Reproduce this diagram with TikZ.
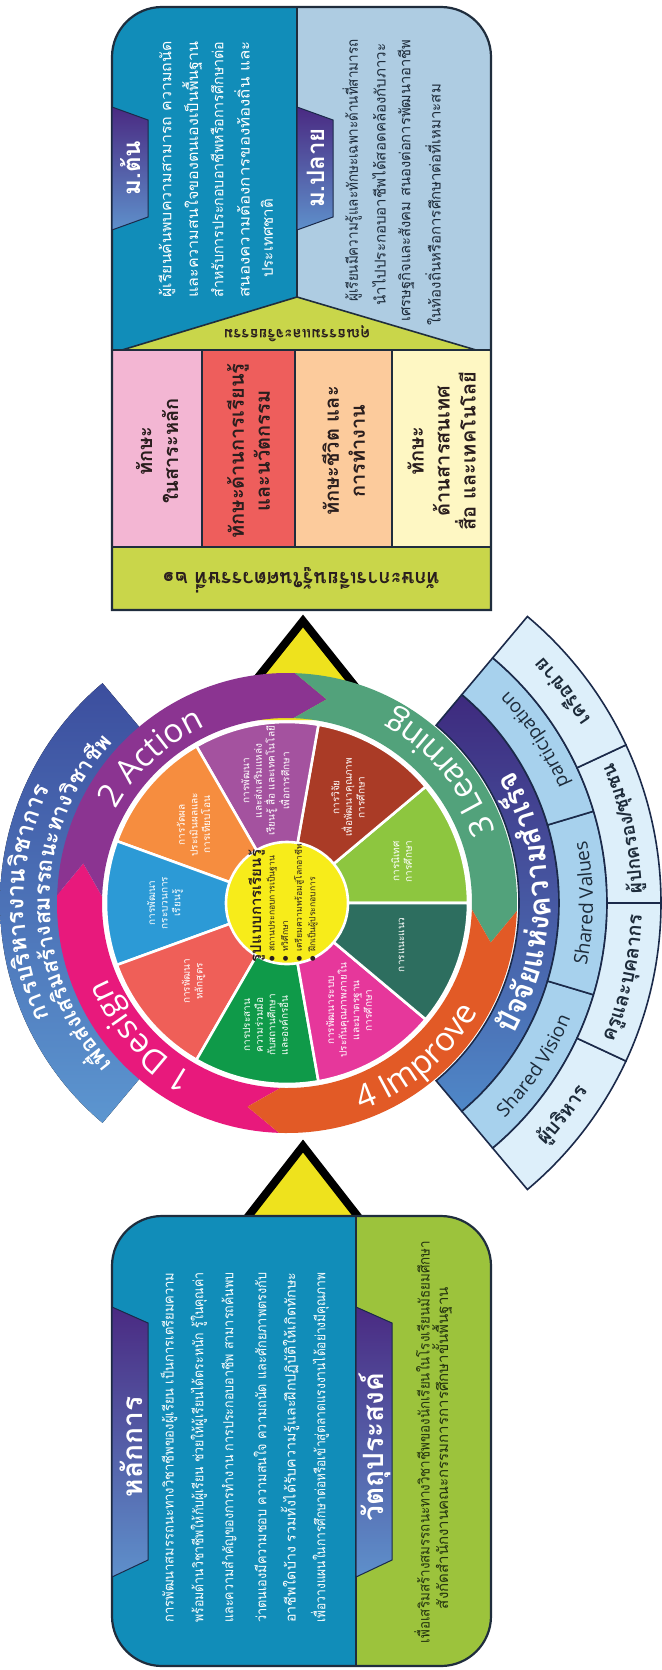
\documentclass[tikz,border=0pt]{standalone}
\usepackage{fontspec}
\usepackage{graphicx}
\setmainfont{Open Sans}
\newfontfamily\ThaiF[Script=Thai]{Loma}
\usetikzlibrary{decorations.text,calc}
\newcommand\fitw[2]{\resizebox{#1}{\height}{#2}}
\definecolor{boxblue}{HTML}{118DB9}
\definecolor{lightblue}{HTML}{AECCE2}
\definecolor{tabpurple}{HTML}{4A2A82}
\definecolor{tabblue}{HTML}{5E90CB}
\definecolor{olivey}{HTML}{C9D64A}
\definecolor{skpink}{HTML}{F3B6D3}
\definecolor{skred}{HTML}{EE5E5C}
\definecolor{skorange}{HTML}{FCCB9C}
\definecolor{skyellow}{HTML}{FEF7C3}
\definecolor{ygreen}{HTML}{9CC33C}
\definecolor{arrowyellow}{HTML}{EEE21D}
\definecolor{outline}{HTML}{1F2D3D}
\definecolor{rdesign}{HTML}{E8197C}
\definecolor{raction}{HTML}{8B3491}
\definecolor{rlearn}{HTML}{52A27B}
\definecolor{rimprove}{HTML}{E25A26}
\definecolor{sgl}{HTML}{8DC63F}
\definecolor{sbrown}{HTML}{AA3B26}
\definecolor{spurple}{HTML}{A4529F}
\definecolor{sorange}{HTML}{F68D3F}
\definecolor{sblue}{HTML}{2C9AD6}
\definecolor{ssalmon}{HTML}{EF5F58}
\definecolor{sgreen}{HTML}{0F9A49}
\definecolor{spink}{HTML}{E6379B}
\definecolor{steal}{HTML}{2D6E5F}
\definecolor{cyellow}{HTML}{F7EC1A}
\definecolor{bandtop}{HTML}{3C4E9E}
\definecolor{bandbot}{HTML}{5C96D0}
\definecolor{darktop}{HTML}{3E2A7E}
\definecolor{darkbot}{HTML}{4F88C8}
\definecolor{midband}{HTML}{A7D1ED}
\definecolor{outband}{HTML}{DDEFFA}
\definecolor{navy}{HTML}{1B2A4A}
\definecolor{darktext}{HTML}{2A1E1E}
\definecolor{navytext}{HTML}{1D2B3A}
\definecolor{greentext}{HTML}{24330F}
\begin{document}
\begin{tikzpicture}[x=0.5pt,y=0.5pt,
  tabshape/.style={draw=navy,line width=0.5pt,top color=tabpurple,bottom color=tabblue},
  tabtext/.style={rotate=90,text=white,inner sep=0,font=\ThaiF\bfseries\fontsize{12}{12}\selectfont},
  wline/.style={rotate=90,anchor=west,inner sep=0,text=white,font=\ThaiF\fontsize{7.5}{9}\selectfont},
  dline/.style={rotate=90,anchor=west,inner sep=0,text=navytext,font=\ThaiF\fontsize{7.5}{9}\selectfont},
  bline/.style={rotate=90,anchor=west,inner sep=0,text=white,font=\ThaiF\fontsize{7}{8}\selectfont},
  gline/.style={rotate=90,inner sep=0,text=greentext,font=\ThaiF\fontsize{7.5}{9}\selectfont},
  skill/.style={rotate=90,align=center,inner sep=0,text=darktext,font=\ThaiF\bfseries\fontsize{10}{13}\selectfont},
  seg/.style={rotate=90,align=center,inner sep=0,text=white,font=\ThaiF\fontsize{5}{6.3}\selectfont},
  sector/.style={draw=navy,line width=0.8pt},
  boxline/.style={draw=outline,line width=0.8pt}]
\fill[white] (0,0) rectangle (661,-1670);
\useasboundingbox (0,0) rectangle (661,-1670);

% ---------- arrows (triangles)
\draw[fill=arrowyellow,line width=4pt,line join=miter] (224,-720) -- (303,-621) -- (382,-720);
\draw[fill=arrowyellow,line width=4pt,line join=miter] (236,-1232) -- (303,-1146) -- (370,-1232);

% ---------- top box
\begin{scope}
\clip (112,-610) -- (112,-57) arc[start angle=180,end angle=90,radius=50] -- (441,-7) arc[start angle=90,end angle=0,radius=50] -- (491,-610) -- cycle;
\fill[boxblue] (112,-7) rectangle (297,-350);
\fill[lightblue] (297,-7) rectangle (491,-350);
\end{scope}
\draw[boxline] (297,-7) -- (297,-297);
\filldraw[fill=olivey,boxline] (122,-350) -- (297,-297) -- (476,-350) -- cycle;
\filldraw[fill=skpink,boxline] (112,-350) rectangle (202,-547);
\filldraw[fill=skred,boxline] (202,-350) rectangle (295,-547);
\filldraw[fill=skorange,boxline] (295,-350) rectangle (392,-547);
\filldraw[fill=skyellow,boxline] (392,-350) rectangle (491,-547);
\filldraw[fill=olivey,boxline] (112,-547) rectangle (491,-610);
\draw[outline,line width=1.1pt] (112,-610) -- (112,-57) arc[start angle=180,end angle=90,radius=50] -- (441,-7) arc[start angle=90,end angle=0,radius=50] -- (491,-610) -- cycle;

\draw[tabshape] (112,-107) -- (148,-120) -- (148,-217) -- (112,-230) -- cycle;
\node[tabtext] (mton) at (131,-168) {ม.ต้น};
\draw[tabshape] (297,-107) -- (333,-120) -- (333,-217) -- (297,-230) -- cycle;
\node[tabtext] (mplai) at (316,-168) {ม.ปลาย};

\node[wline] (t1) at (167,-298) {\fitw{128pt}{ผู้เรียนค้นพบความสามารถ  ความถนัด}};
\node[wline] (t2) at (192,-298) {\fitw{128pt}{และความสนใจของตนเองเป็นพื้นฐาน}};
\node[wline] (t3) at (217,-298) {\fitw{128pt}{สำหรับการประกอบอาชีพหรือการศึกษาต่อ}};
\node[wline] (t4) at (242,-298) {\fitw{128pt}{สนองความต้องการของท้องถิ่น  และ}};
\node[wline] (t5) at (267,-278) {ประเทศชาติ};

\node[dline] (p1) at (352,-302) {\fitw{131pt}{ผู้เรียนมีความรู้และทักษะเฉพาะด้านที่สามารถ}};
\node[dline] (p2) at (379,-306) {\fitw{131pt}{นำไปประกอบอาชีพได้สอดคล้องกับภาวะ}};
\node[dline] (p3) at (406,-322) {\fitw{141pt}{เศรษฐกิจและสังคม สนองต่อการพัฒนาอาชีพ}};
\node[dline] (p4) at (433,-326) {ในท้องถิ่นหรือการศึกษาต่อที่เหมาะสม};

\node[rotate=180,inner sep=0,text=darktext,font=\ThaiF\bfseries\fontsize{7.5}{9}\selectfont] (moral) at (297,-334) {คุณธรรมและจริยธรรม};

\node[skill] (sk1) at (157,-451) {ทักษะ\\ในสาระหลัก};
\node[skill] (sk2) at (248.5,-451) {ทักษะด้านการเรียนรู้\\และนวัตกรรม};
\node[skill] (sk3) at (343.5,-451) {ทักษะชีวิต และ\\การทำงาน};
\node[skill] (sk4) at (441.5,-451) {ทักษะ\\ด้านสารสนเทศ\\สื่อ และเทคโนโลยี};
\node[rotate=180,inner sep=0,text=darktext,font=\ThaiF\bfseries\fontsize{10}{12}\selectfont] (skill21) at (301,-580) {ทักษะการเรียนรู้ในศตวรรษที่ ๒๑};

% ---------- bottom box
\begin{scope}
\clip[rounded corners=25pt] (112,-1216) rectangle (491,-1666);
\fill[boxblue] (112,-1216) rectangle (356,-1666);
\fill[ygreen] (356,-1216) rectangle (491,-1666);
\end{scope}
\draw[boxline] (356,-1216) -- (356,-1666);
\draw[outline,line width=1.1pt,rounded corners=25pt] (112,-1216) rectangle (491,-1666);

\draw[tabshape] (112,-1307) -- (148,-1323) -- (148,-1560) -- (112,-1577) -- cycle;
\node[tabtext,font=\ThaiF\bfseries\fontsize{14}{14}\selectfont] (lakkan) at (131,-1447) {หลักการ};
\draw[tabshape] (356,-1307) -- (392,-1323) -- (392,-1560) -- (356,-1577) -- cycle;
\node[tabtext,font=\ThaiF\bfseries\fontsize{14}{14}\selectfont] (wattu) at (375,-1447) {วัตถุประสงค์};

\node[bline] (b1) at (169,-1623) {\fitw{175pt}{การพัฒนาสมรรถนะทางวิชาชีพของผู้เรียน เป็นการเตรียมความ}};
\node[bline] (b2) at (199,-1623) {\fitw{175pt}{พร้อมด้านวิชาชีพให้กับผู้เรียน ช่วยให้ผู้เรียนได้ตระหนัก รู้ในคุณค่า}};
\node[bline] (b3) at (229,-1623) {\fitw{175pt}{และความสำคัญของการทำงาน การประกอบอาชีพ สามารถค้นพบ}};
\node[bline] (b4) at (260,-1623) {\fitw{175pt}{ว่าตนเองมีความชอบ ความสนใจ ความถนัด และศักยภาพตรงกับ}};
\node[bline] (b5) at (290,-1623) {\fitw{175pt}{อาชีพใดบ้าง รวมทั้งได้รับความรู้และฝึกปฏิบัติให้เกิดทักษะ}};
\node[bline] (b6) at (320,-1623) {\fitw{175pt}{เพื่อวางแผนในการศึกษาต่อหรือเข้าสู่ตลาดแรงงานได้อย่างมีคุณภาพ}};

\node[gline] (g1) at (422,-1442) {\fitw{201pt}{เพื่อเสริมสร้างสมรรถนะทางวิชาชีพของนักเรียนในโรงเรียนมัธยมศึกษา}};
\node[gline] (g2) at (442,-1448) {\fitw{161pt}{สังกัดสำนักงานคณะกรรมการการศึกษาขั้นพื้นฐาน}};

% ---------- wheel
\begin{scope}[shift={(287,-903)}]
% left band
\fill[top color=bandtop,bottom color=bandbot] (130:287) arc[start angle=130,end angle=230,radius=287] -- (230:226) arc[start angle=230,end angle=130,radius=226] -- cycle;
% right bands
\draw[sector,top color=darktop,bottom color=darkbot] (-50:232) arc[start angle=-50,end angle=50,radius=232] -- (50:272) arc[start angle=50,end angle=-50,radius=272] -- cycle;
\foreach \a in {-50,-16.667,16.667}
  \filldraw[sector,fill=midband] (\a:272) arc[start angle=\a,delta angle=33.333,radius=272] -- ({\a+33.333}:320) arc[start angle={\a+33.333},delta angle=-33.333,radius=320] -- cycle;
\foreach \a in {-50,-25,0,25}
  \filldraw[sector,fill=outband] (\a:320) arc[start angle=\a,delta angle=25,radius=320] -- ({\a+25}:374) arc[start angle={\a+25},delta angle=-25,radius=374] -- cycle;

% ring with arrow tips
\foreach \s/\e/\c in {268/178/rdesign,178/88/raction,88/-2/rlearn,-2/-92/rimprove}
  \fill[\c] (\s:230) arc[start angle=\s,end angle=\e,radius=230] -- ({\e-9}:207.5) -- (\e:185) arc[start angle=\e,end angle=\s,radius=185] -- ({\s-9}:207.5) -- cycle;

% inner segments
\foreach \a/\c in {0/sgl,40/sbrown,80/spurple,120/sorange,160/sblue,200/ssalmon,240/sgreen,280/spink,320/steal}
  \filldraw[fill=\c,draw=white,line width=1.3pt] (0,0) -- (\a:181) arc[start angle=\a,delta angle=40,radius=181] -- cycle;
\filldraw[fill=cyellow,draw=white,line width=1.3pt] (0,0) circle[radius=61];

\node[seg] (s1) at (20:122) {การนิเทศ\\การศึกษา};
\node[seg] (s2) at (60:122) {การวิจัย\\เพื่อพัฒนาคุณภาพ\\การศึกษา};
\node[seg] (s3) at (100:124) {การพัฒนา\\และส่งเสริมแหล่ง\\เรียนรู้ สื่อ และเทคโนโลยี\\เพื่อการศึกษา};
\node[seg] (s4) at (140:122) {การวัดผล\\ประเมินผลและ\\การเทียบโอน};
\node[seg] (s5) at (180:122) {การพัฒนา\\กระบวนการ\\เรียนรู้};
\node[seg] (s6) at (220:122) {การพัฒนา\\หลักสูตร};
\node[seg] (s7) at (260:124) {การประสาน\\ความร่วมมือ\\กับสถานศึกษา\\และองค์กรอื่น};
\node[seg] (s8) at (300:124) {การพัฒนาระบบ\\ประกันคุณภาพภายใน\\และมาตรฐาน\\การศึกษา};
\node[seg] (s9) at (340:122) {การแนะแนว};

\node[rotate=90,align=left,inner sep=0,text=darktext,font=\ThaiF\fontsize{4.3}{6.8}\selectfont] (model) at (-4,0)
  {{\bfseries\fontsize{7.5}{9}\selectfont รูปแบบการเรียนรู้}\\
   $\bullet$ สถานประกอบการเป็นฐาน\\
   $\bullet$ ทวิศึกษา\\
   $\bullet$ เตรียมความพร้อมสู่โลกอาชีพ\\
   $\bullet$ ฝึกเป็นผู้ประกอบการ};

% ring labels
\path[decorate,decoration={text along path,text align=center,text={|\fontsize{16.5}{16.5}\selectfont\color{white}|1 Design}}]
  (262:195) arc[start angle=262,end angle=182,radius=195];
\path[decorate,decoration={text along path,text align=center,text={|\fontsize{16.5}{16.5}\selectfont\color{white}|2 Action}}]
  (173:195) arc[start angle=173,end angle=93,radius=195];
\path[decorate,decoration={text along path,text align=center,text={|\fontsize{16.5}{16.5}\selectfont\color{white}|3 Learning}}]
  (0:220) arc[start angle=0,end angle=80,radius=220];
\path[decorate,decoration={text along path,text align=center,text={|\fontsize{16.5}{16.5}\selectfont\color{white}|4 Improve}}]
  (-90:220) arc[start angle=-90,end angle=-10,radius=220];

% left band labels
\path[decorate,decoration={text along path,text align=center,text={|\ThaiF\bfseries\fontsize{12}{12}\selectfont\color{white}|{การ}{บริ}{หาร}{งาน}{วิ}{ชา}{การ}}}]
  (232:263) arc[start angle=232,end angle=128,radius=263];
\path[decorate,decoration={text along path,text align=center,text={|\ThaiF\bfseries\fontsize{11}{11}\selectfont\color{white}|{เพื่อ}{ส่ง}{เสริม}{สร้าง}{สม}{รรถ}{นะ}{ทาง}{วิ}{ชา}{ชีพ}}}]
  (232:237) arc[start angle=232,end angle=128,radius=237];

% right band labels
\path[decorate,decoration={text along path,text align=center,text={|\ThaiF\bfseries\fontsize{15}{15}\selectfont\color{white}|{ปัจ}{จัย}{แห่ง}{ความ}{สำ}{เร็จ}}}]
  (-50:262) arc[start angle=-50,end angle=50,radius=262];
\path[decorate,decoration={text along path,text align=center,text={|\fontsize{9.5}{9.5}\selectfont\color{navytext}|Shared Vision}}]
  (-55:306) arc[start angle=-55,end angle=-11.7,radius=306];
\path[decorate,decoration={text along path,text align=center,text={|\fontsize{9.5}{9.5}\selectfont\color{navytext}|Shared Values}}]
  (-21.7:306) arc[start angle=-21.7,end angle=21.7,radius=306];
\path[decorate,decoration={text along path,text align=center,text={|\fontsize{9.5}{9.5}\selectfont\color{navytext}|participation}}]
  (11.7:306) arc[start angle=11.7,end angle=55,radius=306];
\path[decorate,decoration={text along path,text align=center,text={|\ThaiF\bfseries\fontsize{10}{10}\selectfont\color{navytext}|{ผู้}{บริ}{หาร}}}]
  (-57.5:355) arc[start angle=-57.5,end angle=-17.5,radius=355];
\path[decorate,decoration={text along path,text align=center,text={|\ThaiF\bfseries\fontsize{10}{10}\selectfont\color{navytext}|{ครู}{และ}{บุค}{ลา}{กร}}}]
  (-32.5:355) arc[start angle=-32.5,end angle=7.5,radius=355];
\path[decorate,decoration={text along path,text align=center,text={|\ThaiF\bfseries\fontsize{9.5}{9.5}\selectfont\color{navytext}|{ผู้}{ปก}{ครอง}{/}{ชุม}{ชน}}}]
  (-7.5:355) arc[start angle=-7.5,end angle=32.5,radius=355];
\path[decorate,decoration={text along path,text align=center,text={|\ThaiF\bfseries\fontsize{10}{10}\selectfont\color{navytext}|{เครือ}{ข่าย}}}]
  (17.5:355) arc[start angle=17.5,end angle=57.5,radius=355];
\end{scope}
\end{tikzpicture}
\end{document}
